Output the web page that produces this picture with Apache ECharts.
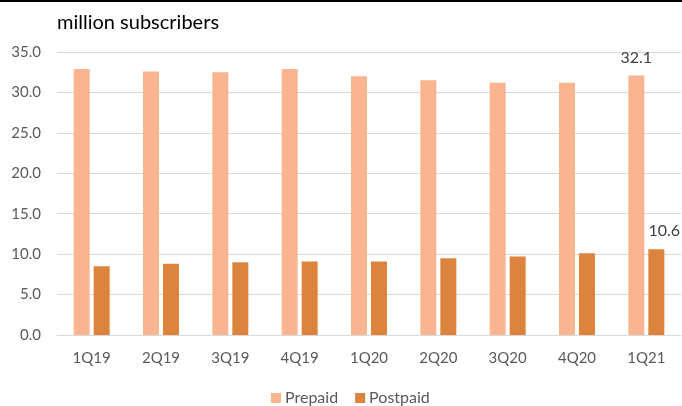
<!DOCTYPE html>
<html>
<head>
<meta charset="utf-8">
<script src="https://cdn.jsdelivr.net/npm/echarts@6/dist/echarts.min.js"></script>
<style>
  html, body { margin: 0; padding: 0; background: #fff; }
  #chart { width: 682px; height: 406px; }
</style>
</head>
<body>
<div id="chart"></div>
<script>
// Quarterly subscriber base, in millions
const quarters = ['1Q19', '2Q19', '3Q19', '4Q19', '1Q20', '2Q20', '3Q20', '4Q20', '1Q21'];
const prepaid  = [32.9, 32.6, 32.5, 32.9, 32.0, 31.5, 31.2, 31.2, 32.1];
const postpaid = [8.5, 8.8, 9.0, 9.1, 9.1, 9.5, 9.7, 10.1, 10.6];
const yTicks = { min: 0, max: 35, step: 5 };

const FONT = 'Lato';
const AXIS_TEXT = '#595959';

// Only the latest quarter carries a value label
function withLastLabel(values, offset) {
  return values.map((v, i) => i === values.length - 1
    ? { value: v, label: { show: true, position: 'top', distance: 10, offset: offset,
        formatter: p => p.value.toFixed(1), color: '#404040', fontSize: 16, fontFamily: FONT } }
    : v);
}

const chart = echarts.init(document.getElementById('chart'));
chart.setOption({
  animation: false,
  backgroundColor: '#fff',
  title: {
    text: 'million subscribers',
    left: 57, top: 13, padding: 0,
    textStyle: { fontFamily: FONT, fontSize: 20, fontWeight: 'normal', color: '#000' }
  },
  graphic: [{
    type: 'rect', left: 0, top: 0,
    shape: { width: 682, height: 2 },
    style: { fill: '#000' }
  }],
  legend: {
    data: ['Prepaid', 'Postpaid'],
    left: 271, top: 390, padding: 0,
    icon: 'rect', itemWidth: 10, itemHeight: 10, itemGap: 17,
    textStyle: { fontFamily: FONT, fontSize: 16, color: AXIS_TEXT, padding: [0, 0, 0, -1] }
  },
  grid: { left: 57, right: 1, top: 52, bottom: 71, containLabel: false },
  xAxis: {
    type: 'category',
    data: quarters,
    axisLine: { lineStyle: { color: '#d9d9d9', width: 1 } },
    axisTick: { show: false },
    axisLabel: { fontFamily: FONT, fontSize: 15, color: AXIS_TEXT, margin: 16 }
  },
  yAxis: {
    type: 'value',
    min: yTicks.min, max: yTicks.max, interval: yTicks.step,
    axisLine: { show: false },
    axisTick: { show: false },
    splitLine: { lineStyle: { color: '#d9d9d9', width: 1 } },
    axisLabel: {
      fontFamily: FONT, fontSize: 15, color: AXIS_TEXT, margin: 16,
      formatter: v => v.toFixed(1)
    }
  },
  series: [
    {
      name: 'Prepaid', type: 'bar',
      data: withLastLabel(prepaid, [0, 0]),
      barWidth: 16, barGap: '25%',
      itemStyle: { color: '#F9B490' }
    },
    {
      name: 'Postpaid', type: 'bar',
      data: withLastLabel(postpaid, [8, 0]),
      barWidth: 16, barGap: '25%',
      itemStyle: { color: '#DC843E' }
    }
  ]
});
</script>
</body>
</html>
